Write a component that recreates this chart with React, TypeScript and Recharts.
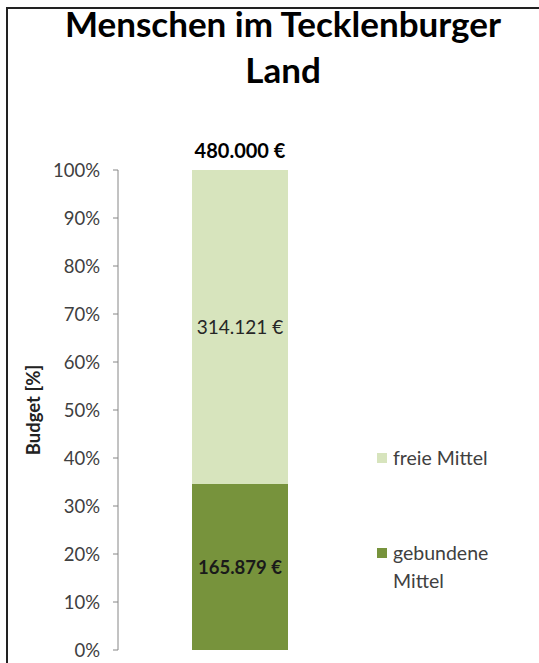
import { BarChart, Bar, XAxis, YAxis, Legend, LabelList, Label } from "recharts";

const categories = ["Menschen im Tecklenburger Land"];
const gebundeneMittel = [165879];
const freieMittel = [314121];
const yTicks = [0, 0.1, 0.2, 0.3, 0.4, 0.5, 0.6, 0.7, 0.8, 0.9, 1];

const data = categories.map((name, i) => ({
  name,
  gebunden: gebundeneMittel[i],
  frei: freieMittel[i],
  total: gebundeneMittel[i] + freieMittel[i],
}));

const FONT = "Lato, 'Open Sans', sans-serif";
const LIGHT = "#d7e4bd";
const DARK = "#77933c";

const euro = (v: any) => String(v).replace(/\B(?=(\d{3})+(?!\d))/g, ".") + " €";

const legendItems = [
  { label: ["freie Mittel"], color: LIGHT },
  { label: ["gebundene", "Mittel"], color: DARK },
];

const MyLegend = () => (
  <div style={{ fontFamily: FONT, fontSize: 19.5, color: "#404040" }}>
    {legendItems.map((it, i) => (
      <div key={i} style={{ display: "flex", alignItems: "flex-start", marginBottom: i === 0 ? 67 : 0 }}>
        <div style={{ width: 10, height: 10, background: it.color, marginTop: 9, marginRight: 6 }} />
        <div style={{ lineHeight: "28px" }}>
          {it.label.map((l, j) => (
            <div key={j}>{l}</div>
          ))}
        </div>
      </div>
    ))}
  </div>
);

const App = () => {
  return (
    <div style={{ position: "absolute", left: 0, top: 0, width: 539, height: 663, overflow: "hidden", background: "#fff" }}>
      <div
        style={{
          position: "absolute",
          left: 6,
          top: 7,
          width: 600,
          height: 700,
          border: "2px solid #222",
        }}
      />
      <div
        style={{
          position: "absolute",
          left: 0,
          top: 0,
          width: 566,
          textAlign: "center",
          fontFamily: FONT,
          fontWeight: 700,
          fontSize: 35,
          lineHeight: "46px",
          color: "#000",
        }}
      >
        Menschen im Tecklenburger
        <br />
        Land
      </div>
      <div style={{ position: "absolute", left: 0, top: 0 }}>
        <BarChart
          width={539}
          height={663}
          data={data}
          stackOffset="expand"
          margin={{ top: 170, right: 177, bottom: 13, left: 0 }}
        >
          <XAxis dataKey="name" tick={false} tickLine={false} height={0} stroke="#868686" />
          <YAxis
            width={118}
            domain={[0, 1]}
            ticks={yTicks}
            tickFormatter={(v: number) => Math.round(v * 100) + "%"}
            tickSize={5}
            tickMargin={13}
            stroke="#868686"
            tick={{ fill: "#404040", fontFamily: FONT, fontSize: 18.5 }}
            interval={0}
          >
            <Label
              content={({ viewBox }: any) => {
                const cx = 33;
                const cy = viewBox.y + viewBox.height / 2;
                return (
                  <text
                    x={cx}
                    y={cy}
                    transform={`rotate(-90, ${cx}, ${cy})`}
                    textAnchor="middle"
                    dominantBaseline="central"
                    fontFamily={FONT}
                    fontWeight={700}
                    fontSize={18.5}
                    fill="#222"
                  >
                    Budget [%]
                  </text>
                );
              }}
            />
          </YAxis>
          <Legend
            layout="horizontal"
            verticalAlign="middle"
            align="center"
            content={<MyLegend />}
            wrapperStyle={{ left: 377, top: 444, width: 150 }}
          />
          <Bar dataKey="gebunden" stackId="a" fill={DARK} barSize={96} isAnimationActive={false}>
            <LabelList
              dataKey="gebunden"
              position="center"
              formatter={euro}
              fill="#1a1a1a"
              fontFamily={FONT}
              fontWeight={700}
              fontSize={18.5}
            />
          </Bar>
          <Bar dataKey="frei" stackId="a" fill={LIGHT} barSize={96} isAnimationActive={false}>
            <LabelList
              dataKey="frei"
              position="center"
              formatter={euro}
              fill="#262626"
              fontFamily={FONT}
              fontSize={19}
            />
            <LabelList
              dataKey="total"
              position="top"
              offset={12}
              formatter={euro}
              fill="#000"
              fontFamily={FONT}
              fontWeight={700}
              fontSize={20}
            />
          </Bar>
        </BarChart>
      </div>
    </div>
  );
};

export default App;
